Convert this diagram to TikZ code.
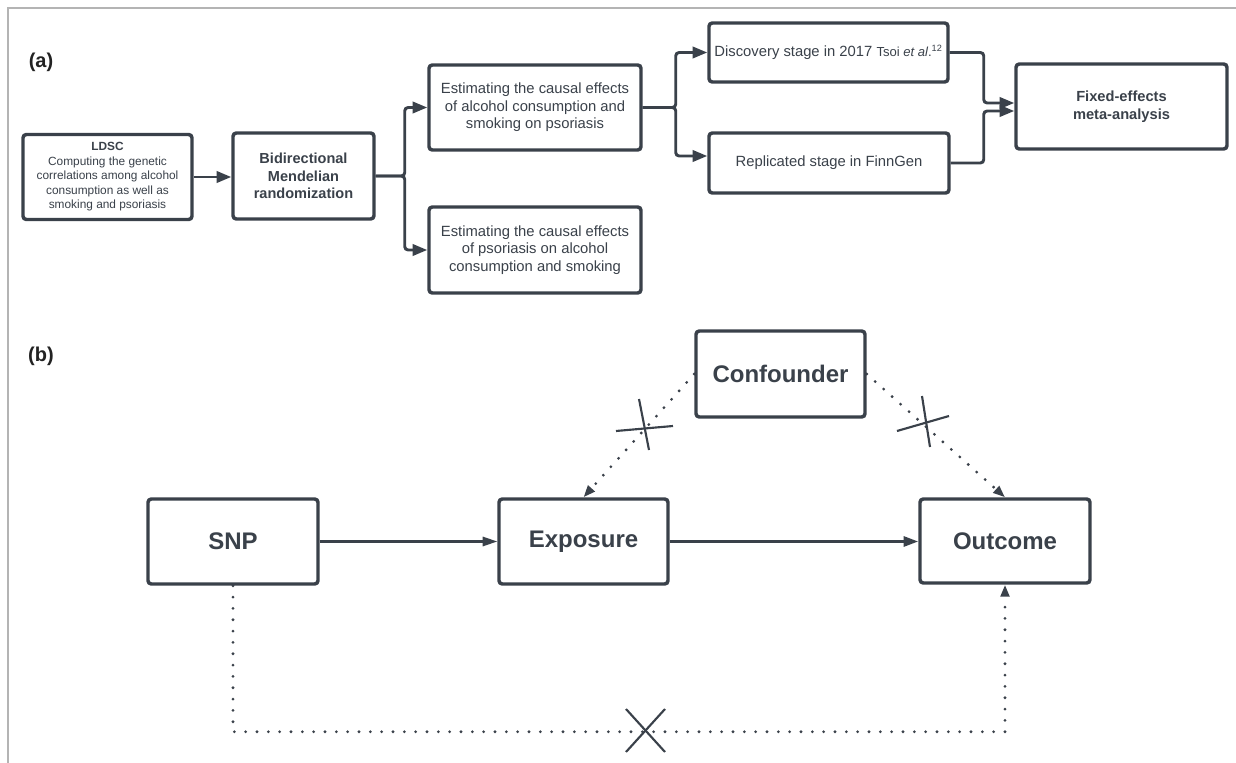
\documentclass[tikz,border=0pt]{standalone}
\usepackage{fontspec}
\setmainfont{Liberation Sans}
\usetikzlibrary{arrows.meta,calc}
\definecolor{ink}{HTML}{3A414A}
\definecolor{framegray}{HTML}{B4B4B4}
\definecolor{labelink}{HTML}{222222}
\begin{document}
\begin{tikzpicture}[x=0.75pt,y=-0.75pt,
  box/.style={draw=ink, line width=2.6pt, rounded corners=2.5pt, fill=white,
    inner sep=0pt, align=center, text=ink},
  sz/.style 2 args={minimum width=#1*0.75pt, minimum height=#2*0.75pt},
  fa/.style={font=\fontsize{11.1}{13.1}\selectfont},
  fab/.style={font=\fontsize{10.9}{12.9}\selectfont\bfseries},
  fb/.style={font=\fontsize{18}{21}\selectfont\bfseries},
  conn/.style={draw=ink, line width=2.2pt, rounded corners=2.5pt,
    -{Triangle[length=11pt,width=8.5pt]}},
  connb/.style={draw=ink, line width=1.6pt, -{Triangle[length=11pt,width=7pt]}},
  connbb/.style={draw=ink, line width=2.2pt, -{Triangle[length=11pt,width=7.5pt]}},
  dotline/.style={draw=ink, line width=2.3pt, line cap=round,
    dash pattern=on 0pt off 8.5pt, -{Triangle[length=9pt,width=6.5pt]}},
  crossmark/.style={draw=ink, line width=1.6pt},
  panel/.style={font=\fontsize{15}{18}\selectfont\bfseries, text=labelink, inner sep=0pt}
]
\useasboundingbox (0,0) rectangle (1236,763);
\draw[framegray, line width=1.6pt] (8,763) -- (8,8) -- (1236,8);

% ---------- panel (a) ----------
\node[panel] (pa) at (41,62) {(a)};
\node[box, sz={169}{85}, font=\fontsize{8.9}{10.9}\selectfont] (ldsc) at (107.5,177)
  {\textbf{LDSC}\\Computing the genetic\\correlations among alcohol\\consumption as well as\\smoking and psoriasis};
\node[box, sz={141}{86}, fab] (bmr) at (303.5,176) {Bidirectional\\Mendelian\\randomization};
\node[box, sz={212}{85}, fa] (est1) at (535,107.5) {Estimating the causal effects\\of alcohol consumption and\\smoking on psoriasis};
\node[box, sz={212}{86}, fa] (est2) at (535,250) {Estimating the causal effects\\of psoriasis on alcohol\\consumption and smoking};
\node[box, sz={239}{59}, fa] (disc) at (828.5,52.5)
  {Discovery stage in 2017 {\fontsize{9.8}{12}\selectfont Tsoi \textit{et al}.\textsuperscript{12}}};
\node[box, sz={240}{60}, fa] (repl) at (829,163) {Replicated stage in FinnGen};
\node[box, sz={211}{85}, font=\fontsize{11}{13.5}\selectfont\bfseries] (fixed) at (1121.5,106.5) {Fixed-effects\\meta-analysis};

\draw[conn] (ldsc.east) -- (ldsc.east -| bmr.west);
\draw[conn] (bmr.east) -- ++(29,0) |- (est1.west);
\draw[conn] (bmr.east) -- ++(29,0) |- (est2.west);
\draw[conn] (est1.east) -- ++(33,0) |- (disc.west);
\draw[conn] (est1.east) -- ++(33,0) |- ($(repl.west)+(0,-7)$);
\draw[conn] (disc.east) -- ++(34,0) |- ($(fixed.west)+(0,-3.5)$);
\draw[conn] (repl.east) -- ++(33,0) |- ($(fixed.west)+(0,4.5)$);

% ---------- panel (b) ----------
\node[panel] (pb) at (41,356) {(b)};
\node[box, sz={169}{86}, fb] (conf) at (780.5,374) {Confounder};
\node[box, sz={170}{85}, fb] (snp) at (233,541.5) {SNP};
\node[box, sz={169}{85}, fb] (expo) at (583.5,541.5) {Exposure};
\node[box, sz={170}{84}, fb] (outc) at (1005,541) {Outcome};

\draw[connb] (snp.east) -- (expo.west);
\draw[connbb] (expo.east) -- (expo.east -| outc.west);
\draw[dotline] (conf.west) -- (expo.north);
\draw[dotline] (conf.east) -- (outc.north);
\draw[dotline] (snp.south) -- ++(0,146) -| (outc.south);

% crosses
\draw[crossmark] (616,431) -- (673,426);
\draw[crossmark] (639,399) -- (649,450);
\draw[crossmark] (897,431) -- (949,416);
\draw[crossmark] (922,396) -- (930,447);
\draw[crossmark] (626,709) -- (665,752);
\draw[crossmark] (665,709) -- (626,752);
\end{tikzpicture}
\end{document}
